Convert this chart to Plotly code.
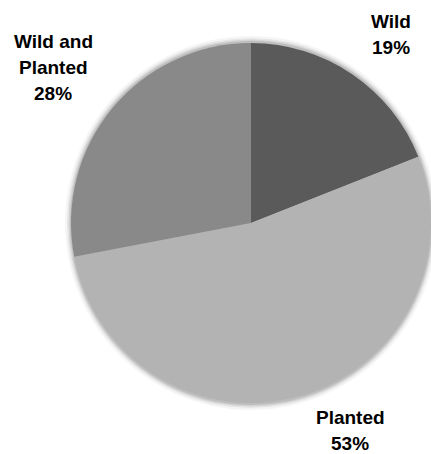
import plotly.graph_objects as go

# Share of sources
categories = ["Wild", "Planted", "Wild and Planted"]
values = [19, 53, 28]
colors = ["#5a5a5a", "#b3b3b3", "#898989"]

# Label lines per category and the pixel anchor of each label block (center x, first-line y)
label_lines = {"Wild": ["Wild"], "Planted": ["Planted"], "Wild and Planted": ["Wild and", "Planted"]}
label_anchor = {"Wild": (391, 22), "Planted": (350, 417), "Wild and Planted": (53, 41)}
line_step = 26

W, H = 431, 454
ml, mr, mt, mb = 71, 0, 42, 50
pw, ph = W - ml - mr, H - mt - mb


def to_paper(px, py):
    return (px - ml) / pw, (H - mb - py) / ph


fig = go.Figure()
fig.add_trace(go.Pie(
    labels=categories,
    values=values,
    sort=False,
    direction="clockwise",
    rotation=0,
    marker=dict(colors=colors, line=dict(width=0)),
    textinfo="none",
    hoverinfo="label+percent",
    showlegend=False,
    domain=dict(x=[0, 1], y=[0, 1]),
))

# Soft shadow ring around the pie
shapes = []
for pad, op in [(6, 0.04), (4, 0.06), (2.5, 0.08), (1.2, 0.1)]:
    px = pad / pw
    py = pad / ph
    shapes.append(dict(type="circle", xref="paper", yref="paper",
                       x0=-px, x1=1 + px, y0=-py, y1=1 + py,
                       fillcolor=f"rgba(0,0,0,{op})", line=dict(width=0), layer="below"))

total = sum(values)
annotations = []
for cat, v in zip(categories, values):
    pct = round(100 * v / total)
    lines = label_lines[cat] + [f"{pct}%"]
    cx, cy = label_anchor[cat]
    for i, line in enumerate(lines):
        x, y = to_paper(cx, cy + i * line_step)
        annotations.append(dict(
            x=x, y=y, xref="paper", yref="paper", xanchor="center", yanchor="middle",
            text=f"<b>{line}</b>", showarrow=False,
            font=dict(family="Liberation Sans, Arial, sans-serif", size=19, color="#000000"),
        ))

fig.update_layout(
    width=W, height=H,
    margin=dict(l=ml, r=mr, t=mt, b=mb),
    paper_bgcolor="white", plot_bgcolor="white",
    shapes=shapes, annotations=annotations,
)

fig.write_html("out.html")
